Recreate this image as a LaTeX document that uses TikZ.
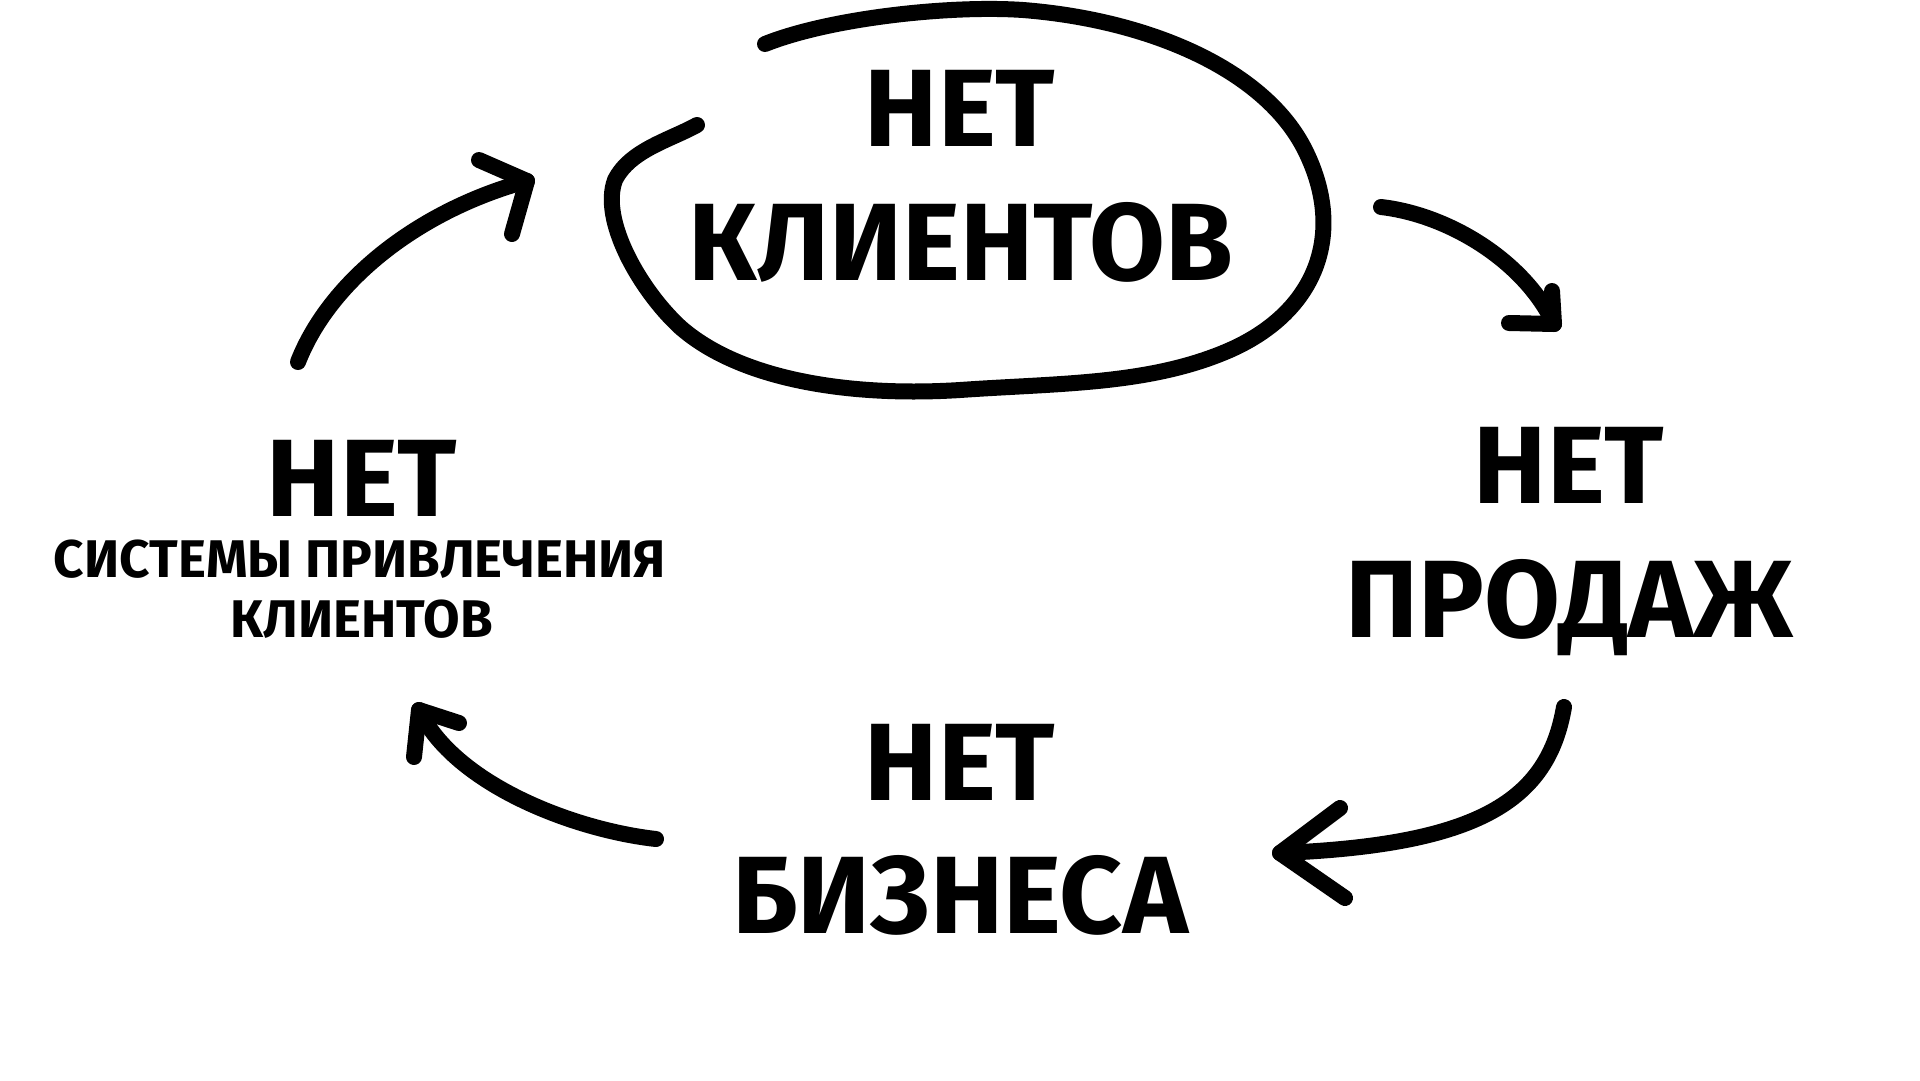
\documentclass[tikz,border=0pt]{standalone}
\usepackage{fontspec}
\setmainfont{Fira Sans}
\begin{document}
\begin{tikzpicture}[x=1pt,y=-1pt,
  big/.style={font=\fontsize{110}{110}\selectfont\bfseries,inner sep=0pt,anchor=base},
  small/.style={font=\fontsize{53}{53}\selectfont\bfseries,inner sep=0pt,anchor=base},
  pen/.style={line width=16pt,line cap=round,line join=round}]
  \fill[white] (0,0) rectangle (1920,1080);
  \useasboundingbox (0,0) rectangle (1920,1080);
  \node[big] (cl1) at (960,146) {НЕТ};
  \node[big] (cl2) at (961,280) {КЛИЕНТОВ};
  \node[big] (sa1) at (1569,503) {НЕТ};
  \node[big] (sa2) at (1569,637) {ПРОДАЖ};
  \node[big] (bu1) at (960,800) {НЕТ};
  \node[big] (bu2) at (960,933) {БИЗНЕСА};
  \node[big] (sy1) at (362,516) {НЕТ};
  \node[small] (sy2) at (360,577) {СИСТЕМЫ ПРИВЛЕЧЕНИЯ};
  \node[small] (sy3) at (362,637) {КЛИЕНТОВ};
  \draw[pen] (765,44) .. controls (830,18) and (950,5) .. (1023,10)
    .. controls (1150,20) and (1265,70) .. (1305,150)
    .. controls (1345,230) and (1320,310) .. (1230,350)
    .. controls (1150,385) and (1060,383) .. (960,390)
    .. controls (850,397) and (740,380) .. (680,327)
    .. controls (640,290) and (600,220) .. (615,180)
    .. controls (630,150) and (670,140) .. (697,125);
  \coordinate (a1s) at (1381,207); \coordinate (a1e) at (1554,324);
  \coordinate (a2s) at (1564,707); \coordinate (a2e) at (1280,853);
  \coordinate (a3s) at (656,839);  \coordinate (a3e) at (419,710);
  \coordinate (a4s) at (298,362);  \coordinate (a4e) at (527,181);
  \draw[pen] (a1s) .. controls (1450,215) and (1525,262) .. (a1e);
  \draw[pen] (a1e) ++(-2,-33) -- (a1e) -- ++(-45,-1);
  \draw[pen] (a2s) .. controls (1548,800) and (1480,845) .. (a2e);
  \draw[pen] (a2e) ++(60,-45) -- (a2e) -- ++(65,45);
  \draw[pen] (a3s) .. controls (575,830) and (455,785) .. (a3e);
  \draw[pen] (a3e) ++(40,13) -- (a3e) -- ++(-5,47);
  \draw[pen] (a4s) .. controls (330,280) and (420,210) .. (a4e);
  \draw[pen] (a4e) ++(-48,-21) -- (a4e) -- ++(-15,53);
\end{tikzpicture}
\end{document}
